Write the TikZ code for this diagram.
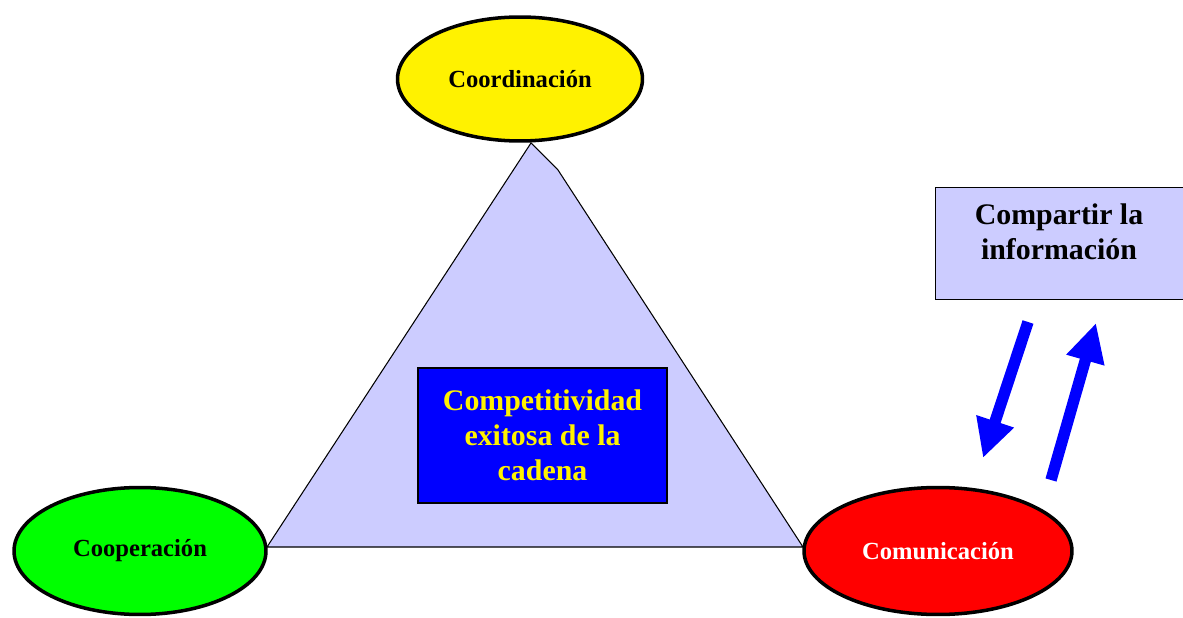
\documentclass[tikz,border=0pt]{standalone}
\usepackage{fontspec}
\setmainfont{Liberation Serif}
\usetikzlibrary{arrows.meta, shapes.geometric}
\definecolor{lavender}{HTML}{CCCCFF}

\begin{document}
\begin{tikzpicture}[x=0.02cm, y=-0.02cm,
    every node/.style={font=\bfseries},
    pillar/.style={ellipse, draw=black, line width=2pt, font=\fontsize{14}{16}\selectfont\bfseries},
    flow/.style={draw=blue, line width=6.5pt, -{Triangle[length=22pt, width=21pt]}}]
    \useasboundingbox (0, 0) rectangle (1183, 618);

    % Triangle
    \draw[fill=lavender, draw=black, semithick]
      (267, 547) -- (531, 143) -- (558, 170) -- (803, 547) -- cycle;

    % Pillars
    \node[pillar, fill=yellow, minimum width=4.9cm, minimum height=2.48cm]
      (coord) at (520, 79) {Coordinación};
    \node[pillar, fill=green, minimum width=5.04cm, minimum height=2.54cm]
      (coop) at (140, 551) {Cooperación};
    \node[pillar, fill=red, text=white, minimum width=5.36cm, minimum height=2.54cm]
      (comm) at (938, 551) {Comunicación};

    % Centre box
    \node[draw=black, fill=blue, text=yellow, align=center, thick,
      minimum width=4.98cm, minimum height=2.7cm,
      font=\fontsize{17}{20}\selectfont\bfseries]
      (goal) at (542.5, 435.5) {Competitividad\\exitosa de la\\cadena};

    % Information box
    \node[draw=black, fill=lavender, minimum width=4.96cm, minimum height=2.24cm]
      (share) at (1059, 243) {};
    \node[align=center, font=\fontsize{17}{20}\selectfont\bfseries]
      (sharetext) at (1059, 232) {Compartir la\\información};

    % Arrows
    \coordinate (downA) at (1028, 322);
    \coordinate (downB) at (983, 458);
    \coordinate (upA) at (1051, 480);
    \coordinate (upB) at (1096, 323);
    \draw[flow] (downA) -- (downB);
    \draw[flow] (upA) -- (upB);
  \end{tikzpicture}
\end{document}
